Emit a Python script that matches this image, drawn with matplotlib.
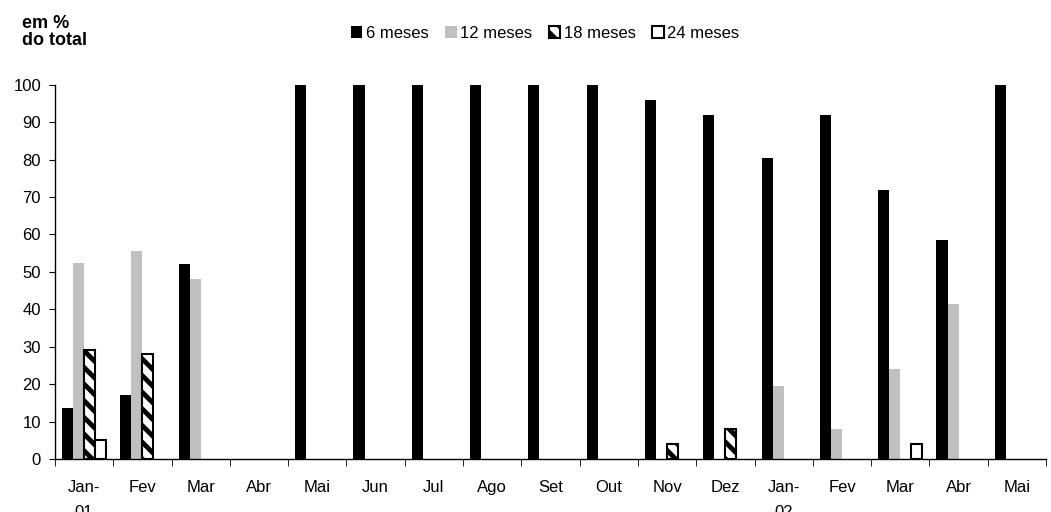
import matplotlib.pyplot as plt
import numpy as np

plt.rcParams['font.family'] = ['Liberation Sans', 'DejaVu Sans']
plt.rcParams['hatch.linewidth'] = 3.5

meses = ["Jan-\n01", "Fev", "Mar", "Abr", "Mai", "Jun", "Jul", "Ago", "Set",
         "Out", "Nov", "Dez", "Jan-\n02", "Fev", "Mar", "Abr", "Mai"]
m6 = [13.5, 17, 52, 0, 100, 100, 100, 100, 100, 100, 96, 92, 80.5, 92, 72, 58.5, 100]
m12 = [52.5, 55.5, 48, 0, 0, 0, 0, 0, 0, 0, 0, 0, 19.5, 8, 24, 41.5, 0]
m18 = [29, 28, 0, 0, 0, 0, 0, 0, 0, 0, 4, 8, 0, 0, 0, 0, 0]
m24 = [5, 0, 0, 0, 0, 0, 0, 0, 0, 0, 0, 0, 0, 0, 4, 0, 0]

fig = plt.figure(figsize=(10.51, 5.12), dpi=100)
ax = fig.add_axes([0.0523, 0.1035, 0.943, 0.731])

x = np.arange(len(meses))
w = 0.19
ax.bar(x - 1.5 * w, m6, w, color='black', label='6 meses')
ax.bar(x - 0.5 * w, m12, w, color='#c0c0c0', label='12 meses')

# barras de 18 e 24 meses so aparecem quando > 0
v18 = np.array(m18, dtype=float)
v24 = np.array(m24, dtype=float)
ax.bar(x[v18 > 0] + 0.5 * w, v18[v18 > 0], w, color='white', edgecolor='black',
       hatch='\\\\', linewidth=1.5, label='18 meses')
ax.bar(x[v24 > 0] + 1.5 * w, v24[v24 > 0], w, color='white', edgecolor='black',
       linewidth=1.5, label='24 meses')

ax.set_xlim(-0.5, len(meses) - 0.5)
ax.set_ylim(0, 100)
ax.set_yticks(range(0, 101, 10))
ax.set_xticks(x)
ax.set_xticklabels(meses, fontsize=12, va='top', linespacing=1.85)
ax.set_xticks(np.arange(-0.5, len(meses), 1), minor=True)
ax.tick_params(axis='x', which='major', length=0, pad=15)
ax.tick_params(axis='x', which='minor', length=5, direction='out')
ax.tick_params(axis='y', labelsize=12, length=4, direction='out', pad=6)
for s in ['top', 'right']:
    ax.spines[s].set_visible(False)
for s in ['left', 'bottom']:
    ax.spines[s].set_linewidth(1)

fig.text(22 / 1051, 1 - 15 / 512, "em %\ndo total", fontsize=13, fontweight='bold',
         va='top', ha='left', linespacing=1.0)

fig.legend(loc='center', bbox_to_anchor=(545 / 1051, 1 - 33 / 512), ncol=4,
           frameon=False, fontsize=12, handlelength=0.7, handleheight=0.7,
           handletextpad=0.2, columnspacing=1.0)

fig.savefig('out.png', dpi=100)
